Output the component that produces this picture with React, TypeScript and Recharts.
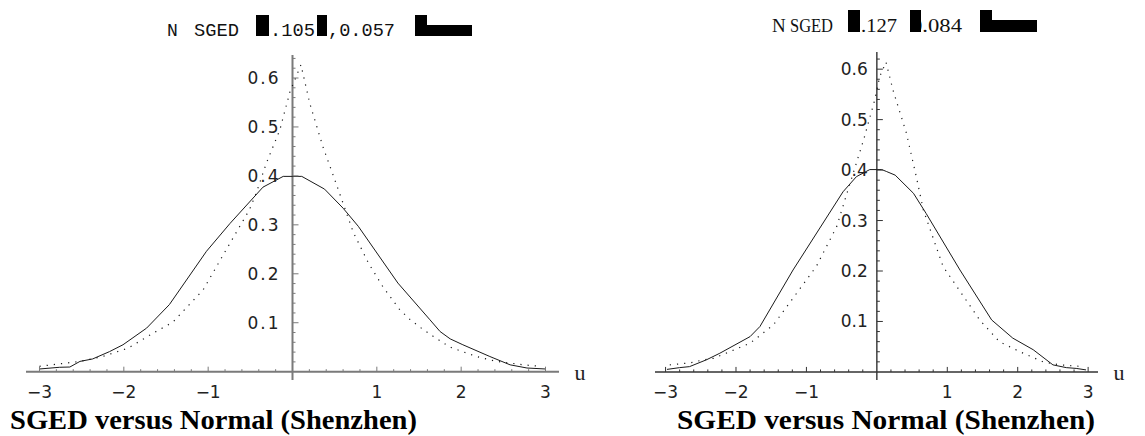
import React from 'react';
import { LineChart, Line, XAxis, YAxis, ReferenceLine, ReferenceDot } from 'recharts';

// ---------- data ----------
const leftSolidU = [-3.0, -2.76, -2.64, -2.52, -2.37, -2.17, -2.01, -1.73, -1.46, -1.02, -0.74, -0.35, -0.11, 0.11, 0.38, 0.6, 0.78, 1.25, 1.63, 1.75, 1.87, 2.02, 2.34, 2.58, 2.78, 3.0];
const leftSolidV = [0.0055, 0.009, 0.0095, 0.021, 0.026, 0.041, 0.055, 0.089, 0.137, 0.246, 0.303, 0.377, 0.399, 0.399, 0.373, 0.334, 0.297, 0.181, 0.106, 0.082, 0.067, 0.055, 0.031, 0.014, 0.0075, 0.0055];

const leftDotU = [-3.0, -2.76, -2.52, -2.25, -1.95, -1.65, -1.42, -1.06, -0.8, -0.51, -0.43, -0.31, -0.15, -0.03, 0.1, 0.205, 0.36, 0.46, 0.6, 0.72, 0.9, 1.07, 1.27, 1.39, 1.55, 1.67, 1.87, 2.18, 2.42, 2.74, 2.93];
const leftDotV = [0.011, 0.016, 0.021, 0.031, 0.048, 0.079, 0.101, 0.167, 0.245, 0.331, 0.365, 0.426, 0.494, 0.572, 0.627, 0.548, 0.46, 0.412, 0.344, 0.285, 0.222, 0.174, 0.127, 0.107, 0.086, 0.072, 0.05, 0.031, 0.021, 0.014, 0.011];

const rightSolidU = [-2.98, -2.8, -2.66, -2.42, -2.23, -1.8, -1.66, -1.19, -0.48, -0.29, -0.1, 0.07, 0.14, 0.26, 0.52, 0.7, 1.18, 1.63, 1.93, 2.22, 2.5, 2.69, 2.83, 2.97];
const rightSolidV = [0.005, 0.0085, 0.0105, 0.024, 0.037, 0.07, 0.09, 0.202, 0.357, 0.387, 0.401, 0.401, 0.397, 0.39, 0.354, 0.314, 0.202, 0.103, 0.067, 0.044, 0.014, 0.0085, 0.007, 0.004];

const rightDotU = [-2.94, -2.65, -2.46, -2.32, -2.09, -1.8, -1.47, -0.86, -0.57, -0.38, -0.19, -0.03, 0.04, 0.13, 0.23, 0.42, 0.56, 0.66, 0.94, 1.46, 1.74, 2.03, 2.36, 2.6, 2.93];
const rightDotV = [0.014, 0.018, 0.024, 0.027, 0.04, 0.057, 0.093, 0.209, 0.288, 0.374, 0.459, 0.539, 0.585, 0.614, 0.558, 0.473, 0.387, 0.321, 0.209, 0.103, 0.06, 0.04, 0.02, 0.014, 0.0105];

const xTickValues = [-3, -2, -1, 1, 2, 3];
const xTickLabels = ['\u22123', '\u22122', '\u22121', '1', '2', '3'];
const yTickValues = [0.1, 0.2, 0.3, 0.4, 0.5, 0.6];
const yTickLabels = ['0.1', '0.2', '0.3', '0.4', '0.5', '0.6'];

const titleText = 'SGED versus Normal (Shenzhen)';
const axisName = 'u';

// ---------- helpers ----------
const zip = (us: number[], vs: number[]) => us.map((u, i) => ({ u, v: vs[i] }));

const xMinor: number[] = Array.from({ length: 31 }, (_, i) => Math.round((-3 + i * 0.2) * 100) / 100).filter(
  (t) => Math.abs(t - Math.round(t)) > 1e-6
);
const yMinorFor = (top: number) =>
  Array.from({ length: 40 }, (_, i) => Math.round((i + 1) * 0.02 * 100) / 100).filter(
    (t) => t <= top && Math.abs(t * 10 - Math.round(t * 10)) > 1e-6
  );

type Cfg = {
  left: number;
  width: number;
  height: number;
  margin: { top: number; right: number; bottom: number; left: number };
  xDomain: [number, number];
  yDomain: [number, number];
  axisColor: string;
  axisWidth: number;
  labelGap: number;
  labelSpacing: number;
  xLabelSpacing: number;
};

const Panel = ({ cfg, solid, dotted }: { cfg: Cfg; solid: any[]; dotted: any[] }) => {
  const font = 'DejaVu Sans';
  const tickColor = cfg.axisColor;
  const yTick = (label: string | null, major: boolean) => (p: any) => (
    <g>
      <line x1={p.cx} y1={p.cy} x2={p.cx + (major ? 6 : 3)} y2={p.cy} stroke={tickColor} strokeWidth={1} />
      {label ? (
        <text
          x={p.cx - cfg.labelGap}
          y={p.cy}
          textAnchor="end"
          dominantBaseline="central"
          fontFamily={font}
          fontSize={17}
          letterSpacing={cfg.labelSpacing}
          fill="#222"
        >
          {label}
        </text>
      ) : null}
    </g>
  );
  const xTick = (label: string | null, major: boolean) => (p: any) => (
    <g>
      <line x1={p.cx} y1={p.cy} x2={p.cx} y2={p.cy - (major ? 5 : 2.5)} stroke={tickColor} strokeWidth={1} />
      {label ? (
        <text
          x={p.cx}
          y={p.cy + 20}
          textAnchor="middle"
          dominantBaseline="central"
          fontFamily={font}
          fontSize={17}
          letterSpacing={cfg.xLabelSpacing}
          fill="#222"
        >
          {label}
        </text>
      ) : null}
    </g>
  );
  return (
    <div style={{ position: 'absolute', left: cfg.left, top: 0 }}>
      <LineChart width={cfg.width} height={cfg.height} margin={cfg.margin}>
        <XAxis type="number" dataKey="u" domain={cfg.xDomain} hide allowDataOverflow height={0} />
        <YAxis type="number" domain={cfg.yDomain} hide allowDataOverflow width={0} />
        <ReferenceLine y={0} stroke={cfg.axisColor} strokeWidth={cfg.axisWidth} />
        <ReferenceLine x={0} stroke={cfg.axisColor} strokeWidth={cfg.axisWidth} />
        {xMinor.map((t) => (
          <ReferenceDot key={'xm' + t} x={t} y={0} r={0} shape={xTick(null, false)} />
        ))}
        {xTickValues.map((t, i) => (
          <ReferenceDot key={'xM' + t} x={t} y={0} r={0} shape={xTick(xTickLabels[i], true)} />
        ))}
        {yMinorFor(cfg.yDomain[1]).map((t) => (
          <ReferenceDot key={'ym' + t} x={0} y={t} r={0} shape={yTick(null, false)} />
        ))}
        {yTickValues.map((t, i) => (
          <ReferenceDot key={'yM' + t} x={0} y={t} r={0} shape={yTick(yTickLabels[i], true)} />
        ))}
        <Line
          data={solid}
          dataKey="v"
          type="linear"
          dot={false}
          stroke="#1a1a1a"
          strokeWidth={1}
          isAnimationActive={false}
        />
        <Line
          data={dotted}
          dataKey="v"
          type="linear"
          dot={false}
          stroke="#1a1a1a"
          strokeWidth={1.2}
          strokeDasharray="1.2 6"
          isAnimationActive={false}
        />
      </LineChart>
    </div>
  );
};

const leftCfg: Cfg = {
  left: 0,
  width: 600,
  height: 436,
  margin: { top: 55, right: 41, bottom: 56, left: 26 },
  xDomain: [-3.16, 3.16],
  yDomain: [-0.017, 0.647],
  axisColor: '#7a7a7a',
  axisWidth: 2,
  labelGap: 12,
  labelSpacing: 2,
  xLabelSpacing: 0,
};

const rightCfg: Cfg = {
  left: 600,
  width: 545,
  height: 436,
  margin: { top: 52, right: 47, bottom: 56, left: 55 },
  xDomain: [-3.15, 3.14],
  yDomain: [-0.016, 0.634],
  axisColor: '#333',
  axisWidth: 1.4,
  labelGap: 9,
  labelSpacing: 0,
  xLabelSpacing: 0,
};

export default function App() {
  return (
    <div style={{ position: 'absolute', left: 0, top: 0, width: 1145, height: 436, background: '#fff', overflow: 'hidden' }}>
      <Panel cfg={leftCfg} solid={zip(leftSolidU, leftSolidV)} dotted={zip(leftDotU, leftDotV)} />
      <Panel cfg={rightCfg} solid={zip(rightSolidU, rightSolidV)} dotted={zip(rightDotU, rightDotV)} />
      <svg width={1145} height={436} style={{ position: 'absolute', left: 0, top: 0, pointerEvents: 'none' }}>
        {/* left legend */}
        <g fontFamily="Liberation Mono" fontSize={18} fill="#111">
          <text x={167} y={36}>N</text>
          <text x={194} y={36} textLength={45} lengthAdjust="spacingAndGlyphs">SGED</text>
          <text x={270} y={36} textLength={45} lengthAdjust="spacingAndGlyphs">.105</text>
          <text x={328} y={36} textLength={67} lengthAdjust="spacingAndGlyphs">,0.057</text>
        </g>
        <rect x={256} y={15} width={13} height={21} fill="#000" />
        <rect x={317} y={15} width={10} height={21} fill="#000" />
        <rect x={415} y={15} width={12} height={21} fill="#000" />
        <rect x={415} y={25} width={57} height={11} fill="#000" />
        {/* right legend */}
        <g fontFamily="Liberation Serif" fontSize={19} fill="#111">
          <text x={772} y={32}>N</text>
          <text x={790} y={32} textLength={43} lengthAdjust="spacingAndGlyphs">SGED</text>
          <text x={861} y={32} textLength={36} lengthAdjust="spacingAndGlyphs">.127</text>
          <text x={911} y={32} textLength={51} lengthAdjust="spacingAndGlyphs">0.084</text>
        </g>
        <rect x={848} y={10} width={12} height={22} fill="#000" />
        <rect x={910} y={10} width={11} height={22} fill="#000" />
        <rect x={980} y={10} width={12} height={22} fill="#000" />
        <rect x={980} y={20} width={57} height={12} fill="#000" />
        {/* axis names */}
        <text x={580} y={372} textAnchor="middle" dominantBaseline="central" fontFamily="Liberation Serif" fontSize={22} fill="#222">{axisName}</text>
        <text x={1119} y={372} textAnchor="middle" dominantBaseline="central" fontFamily="Liberation Serif" fontSize={22} fill="#222">{axisName}</text>
        {/* titles */}
        <text x={10} y={429} fontFamily="Liberation Serif" fontWeight="bold" fontSize={28} fill="#000" textLength={407} lengthAdjust="spacingAndGlyphs">{titleText}</text>
        <text x={677} y={429} fontFamily="Liberation Serif" fontWeight="bold" fontSize={28} fill="#000" textLength={418} lengthAdjust="spacingAndGlyphs">{titleText}</text>
      </svg>
    </div>
  );
}
